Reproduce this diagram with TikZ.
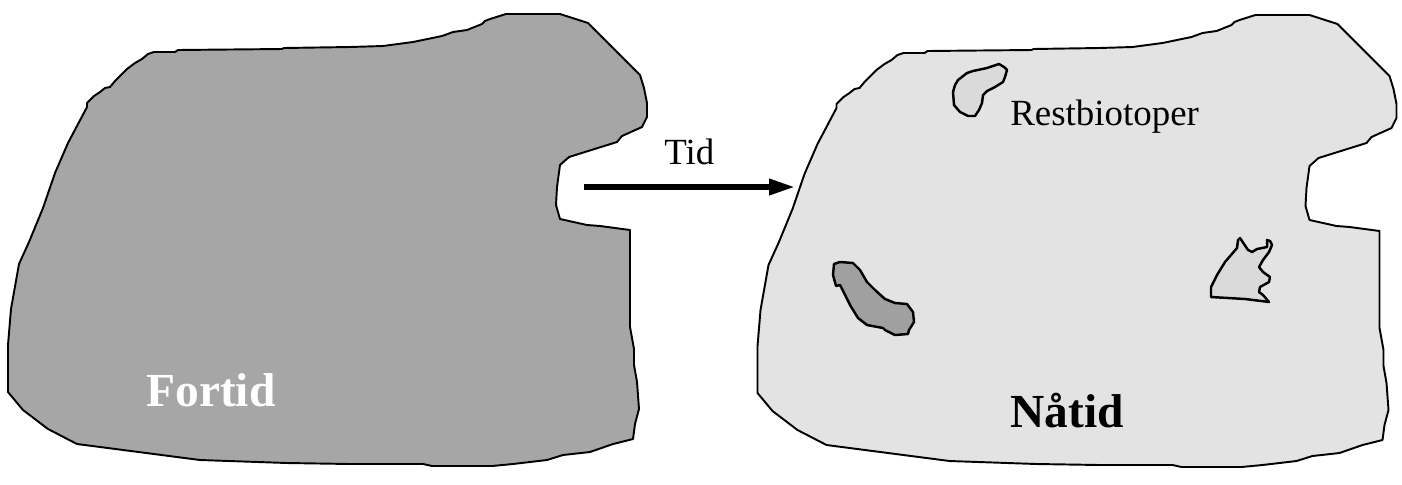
\documentclass[tikz,border=0pt]{standalone}
\usepackage{fontspec}
\usepackage{xcolor}
\setmainfont{Liberation Serif}
\usetikzlibrary{arrows.meta, positioning, calc}

\definecolor{fortidgray}{HTML}{A6A6A6}
\definecolor{natidgray}{HTML}{E3E3E3}
\definecolor{lysbiotop}{HTML}{DADADA}
\definecolor{morkbiotop}{HTML}{A0A0A0}

\tikzset{
    omrade/.style={draw=black, line width=1.1pt, line join=round},
    biotop/.style={draw=black, line width=1.4pt, line join=round},
    stortekst/.style={font=\fontsize{27}{30}\selectfont\bfseries, inner sep=0pt, anchor=base west},
    smatekst/.style={font=\fontsize{21}{24}\selectfont, inner sep=0pt, anchor=base west}
}

\newcommand{\omriss}{(29,242) -- (43,208) -- (55,173) -- (68,143) -- (87,107) -- (87,103) -- (90,100) -- (94,96) -- (100,92) -- (105,88) -- (110,87) -- (115,81) -- (122,74) -- (127,69) -- (135,63) -- (142,59) -- (148,54) -- (154,52) -- (175,52) -- (178,50) -- (282,49) -- (284,48) -- (350,47) -- (383,46) -- (413,42) -- (442,36) -- (453,32) -- (467,30) -- (482,24) -- (485,21) -- (490,19) -- (506,14) -- (560,14) -- (588,23) -- (640,75) -- (644,88) -- (647,103) -- (647,117) -- (642,127) -- (622,136) -- (617,142) -- (569,157) -- (560,165) -- (557,187) -- (556,205) -- (560,219) -- (587,225) -- (600,226) -- (630,230) -- (630,327) -- (634,349) -- (634,365) -- (637,382) -- (639,409) -- (635,424) -- (633,439) -- (613,444) -- (590,452) -- (563,455) -- (547,460) -- (513,464) -- (492,466) -- (432,466) -- (423,464) -- (350,464) -- (287,463) -- (200,460) -- (77,444) -- (48,429) -- (23,410) -- (8,392) -- (8,345) -- (11,309) -- (19,264) -- cycle}

\begin{document}
\begin{tikzpicture}[x=0.02cm, y=-0.02cm]

    \useasboundingbox (0,0) rectangle (1402,484);

    % Fortid: hele området
    \filldraw[omrade, fill=fortidgray] \omriss;
    \node[stortekst, text=white] (fortid) at (146,406) {Fortid};

    % Nåtid: samme område, flyttet til høyre
    \begin{scope}[shift={(749.5,1)}]
        \filldraw[omrade, fill=natidgray] \omriss;
    \end{scope}
    \node[stortekst] (natid) at (1010,427) {Nåtid};

    % Restbiotoper
    \filldraw[biotop, fill=lysbiotop] (999,64) -- (1004,67) -- (1007,70) -- (1005,77) -- (1003,82) -- (995,87) -- (987,91) -- (983,95) -- (982,103) -- (979,110) -- (975,116) -- (968,116) -- (960,112) -- (954,105) -- (953,92) -- (955,85) -- (958,80) -- (967,73) -- (973,71) -- (987,68) -- (993,66) -- cycle;
    \filldraw[biotop, fill=morkbiotop] (834,264) -- (840,262) -- (853,263) -- (860,270) -- (867,282) -- (875,290) -- (885,299) -- (895,303) -- (907,304) -- (913,312) -- (914,322) -- (909,330) -- (908,334) -- (895,335) -- (885,330) -- (883,328) -- (867,325) -- (858,318) -- (850,305) -- (840,285) -- (836,286) -- (833,275) -- cycle;
    \filldraw[biotop, fill=lysbiotop] (1240,238) -- (1248,250) -- (1252,252) -- (1257,249) -- (1267,247) -- (1267,240) -- (1270,241) -- (1272,245) -- (1269,252) -- (1263,260) -- (1259,267) -- (1263,272) -- (1270,277) -- (1269,282) -- (1260,287) -- (1259,292) -- (1263,295) -- (1269,302) -- (1245,299) -- (1211,297) -- (1211,287) -- (1217,275) -- (1225,262) -- (1237,248) -- (1238,240) -- cycle;
    \node[smatekst] (rest) at (1010,125) {Restbiotoper};

    % Pil mellom bildene
    \coordinate (pilstart) at (584,187);
    \coordinate (pilslutt) at (795,187);
    \draw[line width=3.2pt, -{Triangle[length=14.7pt, width=8.7pt]}] (pilstart) -- (pilslutt);
    \node[smatekst] (tid) at (664,164) {Tid};

\end{tikzpicture}
\end{document}
